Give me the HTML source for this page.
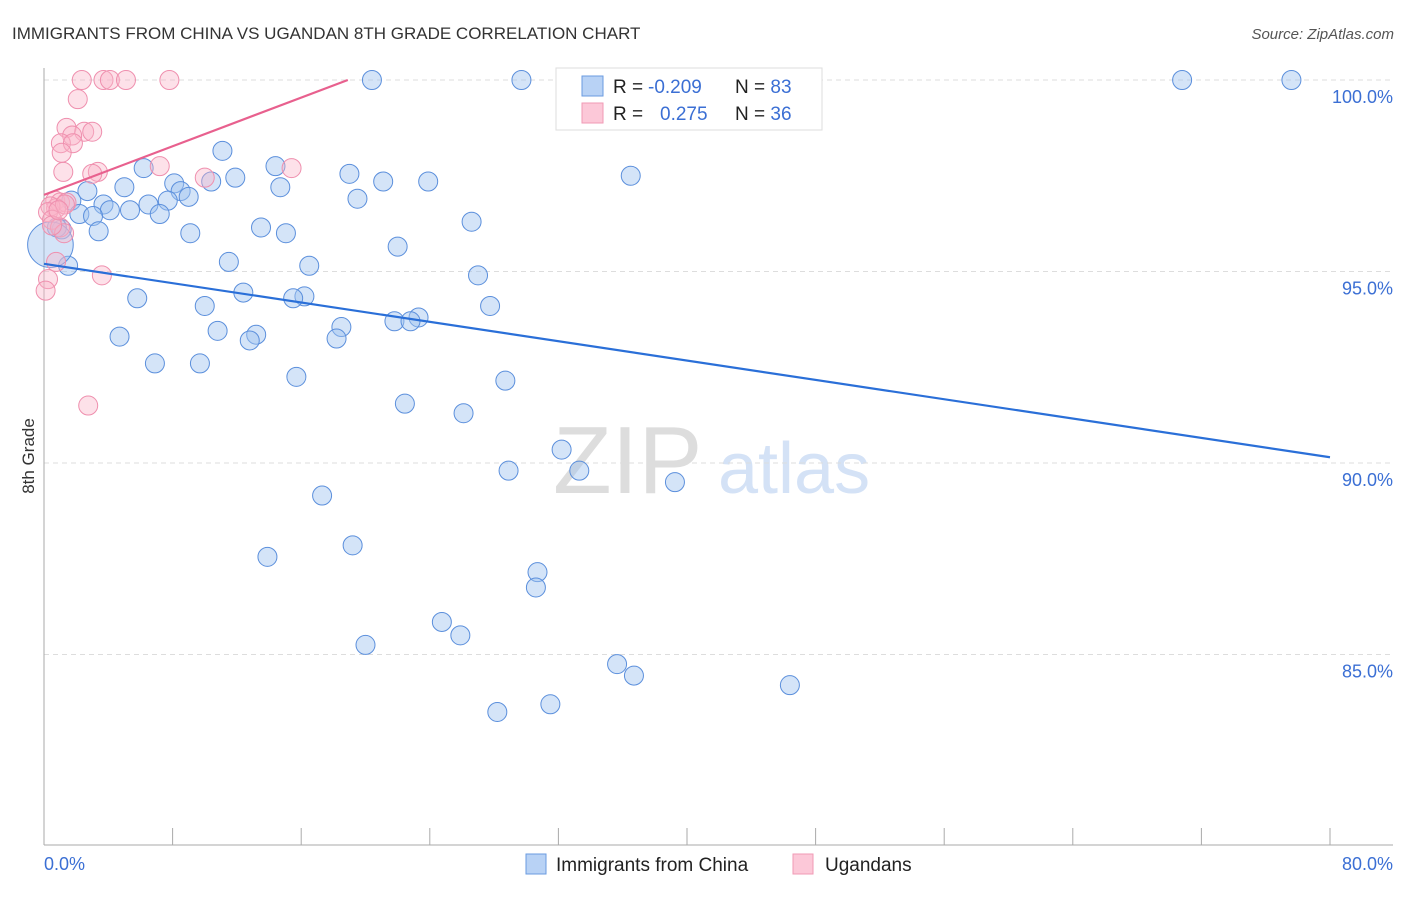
<!DOCTYPE html>
<html><head><meta charset="utf-8">
<style>
body{margin:0;background:#fff;font-family:"Liberation Sans",sans-serif;}
svg text{font-family:"Liberation Sans",sans-serif;}
</style></head>
<body>
<svg id="chart" width="1406" height="892" viewBox="0 0 1406 892">
<text x="12" y="39" font-size="17" fill="#333">IMMIGRANTS FROM CHINA VS UGANDAN 8TH GRADE CORRELATION CHART</text>
<text x="1394" y="39" font-size="15" fill="#555" font-style="italic" text-anchor="end">Source: ZipAtlas.com</text>
<text x="34" y="456" font-size="17" fill="#333" text-anchor="middle" transform="rotate(-90 34 456)">8th Grade</text>
<g>
<text x="553" y="493" font-size="96" fill="#ddd" font-family="Liberation Serif,serif">ZIP</text>
<text x="718" y="493" font-size="72" fill="#d4e2f6">atlas</text>
</g>
<g id="grid"></g>
<g id="axes"></g>
<g id="marks"></g>
<g>
<rect x="556" y="68" width="266" height="62" fill="#fff" stroke="#ddd"/>
<rect x="582" y="76" width="21" height="20" fill="#b8d2f5" stroke="#6a9be0"/>
<rect x="582" y="103" width="21" height="20" fill="#fcc8d8" stroke="#f09ab5"/>
<text x="613" y="93" font-size="19" fill="#222">R = <tspan fill="#3b6fd4" x="648">-0.209</tspan><tspan x="735">N = </tspan><tspan fill="#3b6fd4">83</tspan></text>
<text x="613" y="120" font-size="19" fill="#222">R = <tspan fill="#3b6fd4" x="660">0.275</tspan><tspan x="735">N = </tspan><tspan fill="#3b6fd4">36</tspan></text>
</g>
<g>
<rect x="526" y="854" width="20" height="20" fill="#b8d2f5" stroke="#6a9be0"/>
<text x="556" y="871" font-size="19" fill="#222">Immigrants from China</text>
<rect x="793" y="854" width="20" height="20" fill="#fcc8d8" stroke="#f09ab5"/>
<text x="825" y="871" font-size="19" fill="#222">Ugandans</text>
</g>
</svg>
<script>
const yTicks=[100,95,90,85];
const yTickLabels=["100.0%","95.0%","90.0%","85.0%"];
const xTickLabels=["0.0%","80.0%"];
const chinaX=[20.4,29.7,32.9,34.6,70.8,77.6,11.1,6.2,14.4,36.5,19.0,11.9,5.0,8.1,10.4,21.1,23.9,2.7,14.7,8.5,9.0,7.7,19.5,6.5,1.7,3.7,4.1,5.35,7.2,2.2,3.05,26.6,13.5,1.1,3.4,9.1,15.05,22.0,11.5,16.5,1.5,27.0,5.8,12.4,16.2,15.5,10.0,27.75,18.5,23.3,21.8,22.8,10.8,4.7,13.2,12.8,18.2,6.9,9.7,15.7,28.7,22.45,26.1,32.2,28.9,33.3,39.25,17.3,19.2,13.9,30.7,30.6,24.75,25.9,20.0,35.65,36.7,46.4,28.2,31.5,0.8,0.4];
const chinaY=[100,100,100,99.8,100,100,98.15,97.7,97.75,97.5,97.55,97.45,97.2,97.3,97.35,97.35,97.35,97.1,97.2,97.1,96.95,96.85,96.9,96.75,96.85,96.75,96.6,96.6,96.5,96.5,96.45,96.3,96.15,96.1,96.05,96.0,96.0,95.65,95.25,95.15,95.15,94.9,94.3,94.45,94.35,94.3,94.1,94.1,93.55,93.8,93.7,93.7,93.45,93.3,93.35,93.2,93.25,92.6,92.6,92.25,92.15,91.55,91.3,90.35,89.8,89.8,89.5,89.15,87.85,87.55,87.15,86.75,85.85,85.5,85.25,84.75,84.45,84.2,83.5,83.7,96.15,95.7];
const chinaSize=[1,1,1,1,1,1,1,1,1,1,1,1,1,1,1,1,1,1,1,1,1,1,1,1,1,1,1,1,1,1,1,1,1,1,1,1,1,1,1,1,1,1,1,1,1,1,1,1,1,1,1,1,1,1,1,1,1,1,1,1,1,1,1,1,1,1,1,1,1,1,1,1,1,1,1,1,1,1,1,1,1,2.4];
const ugX=[2.35,3.7,4.1,5.1,7.8,2.1,1.4,2.5,3.0,1.75,1.05,1.8,1.1,1.2,3.35,3.0,7.2,15.4,10.0,0.7,1.0,1.4,0.75,0.4,1.3,0.25,0.5,1.0,1.25,0.75,3.6,0.25,0.1,2.75,0.5,0.9];
const ugY=[100,100,100,100,100,99.5,98.75,98.65,98.65,98.55,98.35,98.35,98.1,97.6,97.6,97.55,97.75,97.7,97.45,96.85,96.8,96.8,96.65,96.7,96.75,96.55,96.35,96.15,96.0,95.25,94.9,94.8,94.5,91.5,96.2,96.6];
const chinaTrend=[95.2,90.15];
const ugTrend=[97.0,100];
const ugTrendEndX=[0,18.9];

const X0=44,X1=1330,YTOP=80,PXPER=38.3;
const sx=v=>X0+(X1-X0)*v/80;
const sy=v=>YTOP+(100-v)*PXPER;
const NS="http://www.w3.org/2000/svg";
function mk(tag,attrs,parent){const e=document.createElementNS(NS,tag);for(const k in attrs)e.setAttribute(k,attrs[k]);parent.appendChild(e);return e;}
const grid=document.getElementById('grid'),axes=document.getElementById('axes'),marks=document.getElementById('marks');
yTicks.forEach((t,i)=>{
  const l=mk('line',{x1:X0,x2:1393,y1:sy(t),y2:sy(t),stroke:'#ddd','stroke-dasharray':'5,4'},grid);
  
  
  const tx=mk('text',{x:1393,y:sy(t)+23,'font-size':18,fill:'#3b6fd4','text-anchor':'end'},axes);
  tx.textContent=yTickLabels[i];
  
  
});
const ya=mk('line',{x1:X0,x2:X0,y1:68,y2:845,stroke:'#aaa'},axes);


const xa=mk('line',{x1:X0,x2:1393,y1:845,y2:845,stroke:'#aaa'},axes);


for(let i=0;i<=10;i++){
  const v=i*8;
  const t=mk('line',{x1:sx(v),x2:sx(v),y1:828,y2:845,stroke:'#aaa'},axes);
  
  
}
[0,80].forEach((v,i)=>{
  const tx=mk('text',{x:i?1393:44,y:870,'font-size':18,fill:'#3b6fd4','text-anchor':i?'end':'start'},axes);
  tx.textContent=xTickLabels[i];
  
  
});
chinaX.forEach((x,i)=>{
  const c=mk('circle',{cx:sx(x),cy:sy(chinaY[i]),r:9.5*chinaSize[i],fill:'rgba(160,196,240,0.45)',stroke:'#5b8fdc','stroke-width':1},marks);
  
  
});
ugX.forEach((x,i)=>{
  const c=mk('circle',{cx:sx(x),cy:sy(ugY[i]),r:9.5,fill:'rgba(250,180,200,0.4)',stroke:'#ef8fae','stroke-width':1},marks);
  
  
});
const bl=mk('line',{x1:sx(0),y1:sy(chinaTrend[0]),x2:sx(80),y2:sy(chinaTrend[1]),stroke:'#2a6fd8','stroke-width':2.2},marks);


const pl=mk('line',{x1:sx(ugTrendEndX[0]),y1:sy(ugTrend[0]),x2:sx(ugTrendEndX[1]),y2:sy(ugTrend[1]),stroke:'#e8608e','stroke-width':2.2},marks);


</script>
</body></html>
